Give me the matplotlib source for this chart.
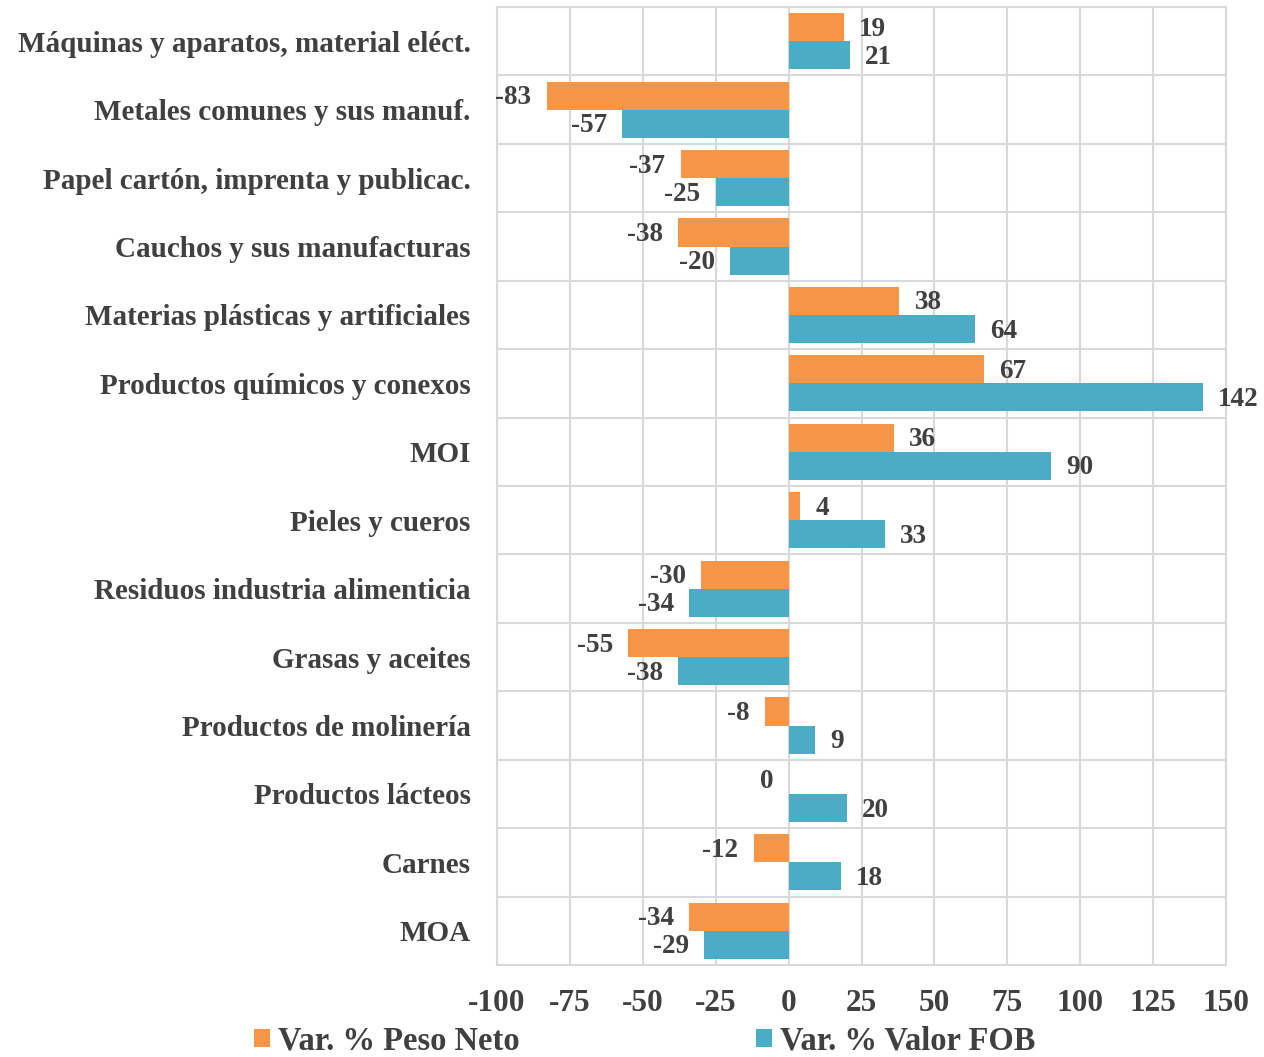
import matplotlib
matplotlib.use("Agg")
import matplotlib.pyplot as plt
from matplotlib.patches import Patch
import numpy as np

categories = [
    "Máquinas y aparatos, material eléct.",
    "Metales comunes y sus manuf.",
    "Papel cartón, imprenta y publicac.",
    "Cauchos y sus manufacturas",
    "Materias plásticas y artificiales",
    "Productos químicos y conexos",
    "MOI",
    "Pieles y cueros",
    "Residuos industria alimenticia",
    "Grasas y aceites",
    "Productos de molinería",
    "Productos lácteos",
    "Carnes",
    "MOA",
]
peso_neto = [19, -83, -37, -38, 38, 67, 36, 4, -30, -55, -8, 0, -12, -34]
valor_fob = [21, -57, -25, -20, 64, 142, 90, 33, -34, -38, 9, 20, 18, -29]
series_names = ["Var. % Peso Neto", "Var. % Valor FOB"]
xticks = [-100, -75, -50, -25, 0, 25, 50, 75, 100, 125, 150]

plt.rcParams['font.family'] = ['Liberation Serif', 'DejaVu Serif']
plt.rcParams['font.weight'] = 'bold'

ORANGE = "#F79646"
BLUE = "#4BACC6"
GRID = "#D9D9D9"
TXT = "#404040"

W, H = 1264, 1057
fig = plt.figure(figsize=(W / 100, H / 100), dpi=100)
ax = fig.add_axes([497 / W, (H - 965) / H, (1226 - 497) / W, (965 - 7) / H])

y = np.arange(len(categories))
bh = 0.41
ax.barh(y - bh / 2, peso_neto, height=bh, color=ORANGE, zorder=3)
ax.barh(y + bh / 2, valor_fob, height=bh, color=BLUE, zorder=3)

for ys, vals in ((y - bh / 2, peso_neto), (y + bh / 2, valor_fob)):
    for yi, v in zip(ys, vals):
        off, ha = (11, 'left') if v > 0 else (-11, 'right')
        ax.annotate(str(v), (v, yi), xytext=(off, -1.5), textcoords='offset points',
                    ha=ha, va='center', fontsize=19.5, fontweight='bold', color=TXT)

ax.set_xlim(-100, 150)
ax.set_ylim(len(categories) - 0.5, -0.5)
ax.set_xticks(xticks)
ax.set_xticklabels([str(t) for t in xticks])
ax.set_yticks(y)
ax.set_yticklabels(categories)
ax.set_yticks(np.arange(len(categories) + 1) - 0.5, minor=True)

ax.tick_params(axis='both', which='both', length=0)
ax.tick_params(axis='y', pad=19, labelsize=21, labelcolor=TXT)
ax.tick_params(axis='x', pad=17, labelsize=22.5, labelcolor=TXT)
for lab in ax.get_xticklabels() + ax.get_yticklabels():
    lab.set_fontweight('bold')

ax.grid(axis='x', which='major', color=GRID, linewidth=1.5, zorder=0)
ax.grid(axis='y', which='minor', color=GRID, linewidth=1.5, zorder=0)
ax.grid(axis='y', which='major', visible=False)
for s in ax.spines.values():
    s.set_color(GRID)
    s.set_linewidth(1.5)

h1 = Patch(facecolor=ORANGE, edgecolor='none')
h2 = Patch(facecolor=BLUE, edgecolor='none')
common = dict(frameon=False, loc='center left', handlelength=0.48, handleheight=0.48,
              handletextpad=0.25, borderpad=0, borderaxespad=0,
              prop={'size': 23.5, 'weight': 'bold'})
leg1 = fig.legend([h1], [series_names[0]], bbox_to_anchor=(254 / W, (H - 1041) / H), **common)
leg2 = fig.legend([h2], [series_names[1]], bbox_to_anchor=(756 / W, (H - 1041) / H), **common)
for leg in (leg1, leg2):
    for t in leg.get_texts():
        t.set_color(TXT)

fig.savefig("out.png", dpi=100)
